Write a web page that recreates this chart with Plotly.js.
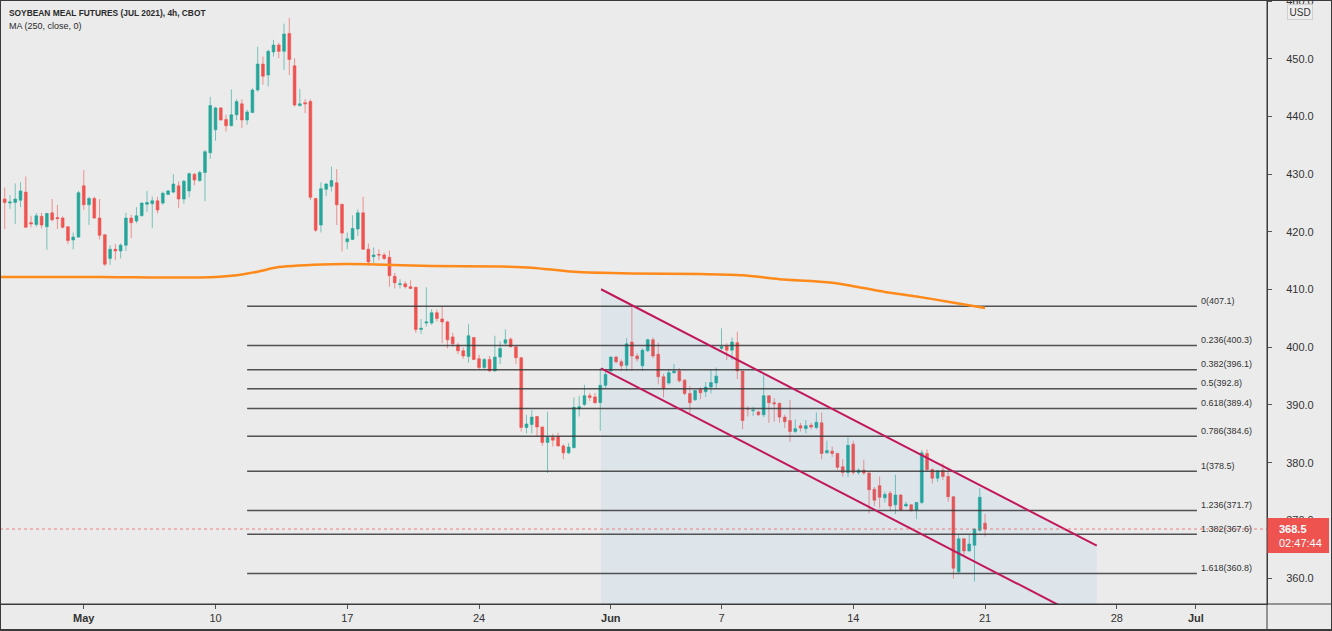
<!DOCTYPE html>
<html>
<head>
<meta charset="utf-8">
<script src="https://cdn.plot.ly/plotly-3.0.1.min.js"></script>
<style>
  html, body { margin: 0; padding: 0; background: #ebebeb; }
  #chart { width: 1332px; height: 631px; }
</style>
</head>
<body>
<div id="chart"></div>
<script>
const FONT = "Liberation Sans, Arial, sans-serif";

// 4h bars, Apr 28 -> Jun 21 2021 (index = bar number on the time scale)
const opens = [
  425.7, 425.0, 425.1, 425.5, 426.9, 421.6, 421.3, 422.7, 420.9, 423.3,
  422.5, 422.4, 420.9, 418.6, 419.1, 428.0, 424.7, 425.8, 422.4, 419.5,
  415.4, 417.0, 416.7, 417.7, 422.4, 421.9, 422.8, 424.8, 424.9, 425.4,
  425.0, 426.5, 426.9, 428.0, 425.7, 427.1, 430.0, 428.9, 430.3, 433.7,
  437.7, 441.5, 439.5, 438.4, 440.3, 442.2, 439.4, 440.7, 444.6, 449.1,
  447.2, 451.2, 452.4, 451.3, 454.4, 448.8, 441.9, 442.4, 442.6, 425.8,
  421.2, 427.4, 427.9, 428.5, 424.8, 418.3, 418.7, 420.5, 423.3, 417.0,
  415.7, 416.1, 416.0, 415.6, 412.3, 410.9, 411.0, 410.5, 410.4, 403.1,
  404.2, 404.2, 406.0, 404.9, 404.4, 401.8, 400.4, 399.4, 398.4, 401.7,
  398.0, 396.5, 397.9, 395.9, 398.3, 400.7, 401.4, 400.1, 398.2, 386.1,
  386.6, 388.0, 386.2, 383.5, 384.4, 384.5, 382.9, 381.7, 382.6, 389.3,
  390.1, 391.6, 391.4, 390.4, 393.4, 395.9, 398.3, 397.5, 396.9, 400.9,
  398.5, 396.8, 399.4, 401.3, 398.8, 394.9, 393.8, 395.6, 395.9, 394.3,
  392.0, 390.9, 392.7, 392.3, 393.1, 393.8, 399.8, 400.2, 399.5, 400.8,
  395.9, 389.4, 389.0, 388.8, 388.3, 391.6, 390.4, 390.3, 387.9, 387.3,
  385.4, 386.4, 385.9, 386.5, 386.1, 386.9, 381.7, 382.0, 381.6, 379.3,
  378.3, 383.2, 378.3, 378.7, 378.2, 375.4, 376.0, 373.9, 374.7, 372.7,
  374.4, 372.5, 372.7, 371.8, 373.1, 381.6, 378.8, 377.3, 378.7, 377.6,
  374.1, 361.1, 366.8, 364.7, 365.7, 368.3, 369.5
];
const highs = [
  427.7, 426.4, 428.4, 428.6, 429.6, 422.8, 423.3, 423.3, 423.3, 425.7,
  424.7, 422.7, 421.0, 419.9, 427.1, 430.7, 426.1, 426.1, 425.7, 419.6,
  417.7, 417.9, 418.0, 423.3, 423.0, 424.3, 425.1, 427.1, 426.1, 426.1,
  427.0, 427.3, 430.0, 428.8, 429.0, 430.3, 430.2, 430.6, 434.2, 443.4,
  441.7, 441.6, 440.3, 444.7, 443.0, 443.0, 441.2, 444.9, 452.1, 450.4,
  451.6, 453.3, 452.8, 456.1, 457.1, 450.1, 444.8, 443.0, 443.0, 425.9,
  428.6, 428.5, 431.3, 430.9, 424.8, 419.9, 422.9, 423.9, 426.1, 418.0,
  417.3, 417.0, 416.4, 416.8, 412.9, 411.8, 411.4, 411.6, 410.5, 404.9,
  410.4, 406.6, 406.5, 407.0, 404.6, 402.5, 400.8, 400.0, 404.0, 401.8,
  398.7, 398.1, 398.5, 402.0, 401.0, 403.1, 401.7, 400.1, 398.3, 388.3,
  389.1, 388.1, 386.2, 388.8, 385.0, 385.2, 383.2, 383.4, 391.3, 391.6,
  393.5, 392.1, 392.1, 396.4, 396.2, 398.4, 398.5, 397.9, 401.6, 407.0,
  399.0, 399.8, 401.5, 401.7, 400.8, 395.4, 396.1, 397.1, 396.4, 394.5,
  393.3, 392.6, 393.1, 394.0, 396.1, 396.5, 403.3, 400.7, 401.7, 402.7,
  395.9, 389.8, 389.7, 389.0, 395.2, 391.7, 391.2, 390.4, 388.3, 390.9,
  387.5, 386.9, 387.4, 386.9, 388.7, 388.7, 383.8, 382.8, 381.7, 380.6,
  384.4, 383.8, 379.0, 380.5, 378.4, 375.8, 377.6, 375.0, 375.1, 377.9,
  374.5, 373.2, 372.8, 373.2, 382.2, 382.3, 379.0, 378.7, 379.9, 379.0,
  374.1, 367.5, 366.9, 367.5, 368.6, 375.6, 371.1
];
const lows = [
  420.5, 424.0, 421.4, 424.3, 420.7, 420.8, 420.9, 420.6, 416.9, 421.8,
  420.5, 420.6, 417.9, 417.0, 419.0, 423.8, 421.2, 422.3, 418.7, 414.1,
  414.3, 415.1, 415.4, 416.7, 418.9, 421.5, 422.7, 423.5, 420.7, 423.2,
  424.7, 426.4, 426.7, 424.1, 424.9, 426.0, 428.1, 428.7, 425.3, 432.7,
  435.8, 439.3, 437.4, 438.3, 439.4, 438.0, 438.6, 440.6, 444.3, 445.5,
  445.2, 450.4, 450.1, 448.1, 447.2, 441.7, 441.7, 440.6, 425.5, 420.0,
  419.9, 426.2, 427.0, 421.2, 416.6, 417.0, 418.6, 419.3, 416.9, 414.1,
  414.6, 415.1, 415.1, 410.5, 410.2, 410.2, 410.2, 410.1, 402.5, 402.3,
  403.6, 403.9, 404.5, 400.7, 399.8, 400.1, 398.8, 398.0, 397.3, 397.8,
  396.2, 396.2, 395.8, 395.8, 397.1, 400.4, 400.0, 397.1, 385.4, 385.1,
  385.1, 384.5, 382.9, 378.2, 382.8, 382.8, 380.6, 381.5, 382.5, 388.0,
  389.8, 390.7, 390.2, 385.5, 392.9, 395.7, 397.2, 395.9, 395.9, 395.9,
  397.5, 395.9, 399.2, 398.1, 393.6, 391.3, 393.5, 395.4, 393.9, 391.7,
  388.6, 390.7, 391.0, 391.4, 392.0, 392.9, 399.5, 397.8, 397.8, 394.5,
  385.8, 388.0, 388.1, 388.1, 387.9, 386.9, 387.1, 386.9, 386.0, 383.6,
  385.1, 385.4, 385.1, 385.8, 385.8, 380.6, 381.6, 381.0, 378.8, 377.6,
  377.5, 377.9, 377.9, 377.9, 371.2, 372.5, 372.1, 373.1, 371.7, 371.1,
  371.7, 372.3, 371.5, 370.2, 372.8, 378.4, 376.4, 376.7, 377.0, 373.2,
  359.9, 360.8, 363.7, 364.6, 359.4, 368.0, 367.2
];
const closes = [
  425.1, 425.2, 425.7, 427.1, 420.8, 421.4, 422.8, 421.2, 423.2, 422.1,
  422.3, 420.8, 418.5, 419.1, 426.8, 424.7, 425.8, 422.4, 419.4, 414.4,
  417.0, 416.7, 417.7, 422.4, 421.6, 422.8, 425.0, 425.1, 425.4, 423.8,
  426.7, 427.1, 428.3, 425.7, 428.8, 430.1, 429.0, 430.3, 433.9, 441.9,
  441.5, 439.4, 438.4, 440.3, 442.6, 439.4, 440.8, 444.6, 449.1, 447.0,
  451.3, 452.4, 451.3, 454.3, 449.9, 442.0, 442.2, 442.2, 426.0, 420.3,
  427.5, 428.3, 428.9, 424.7, 419.8, 418.8, 420.6, 423.3, 417.0, 414.8,
  416.0, 416.0, 415.4, 412.4, 411.2, 411.0, 410.5, 410.2, 403.1, 403.3,
  404.4, 406.0, 405.0, 404.4, 401.3, 400.6, 399.4, 398.5, 402.0, 397.9,
  396.5, 397.9, 395.9, 398.3, 399.8, 401.3, 400.1, 398.2, 386.1, 386.7,
  387.9, 386.2, 383.5, 384.4, 383.9, 382.9, 381.7, 382.7, 389.6, 389.7,
  391.6, 391.3, 390.4, 393.4, 395.3, 398.3, 397.5, 396.8, 400.6, 398.5,
  398.0, 399.5, 401.3, 398.5, 394.9, 392.9, 395.6, 395.9, 394.2, 392.0,
  390.4, 392.5, 392.1, 393.1, 393.9, 395.0, 400.1, 399.5, 400.9, 395.9,
  387.3, 389.3, 389.1, 388.3, 391.6, 390.4, 390.2, 387.9, 387.1, 385.4,
  385.9, 386.0, 386.4, 386.2, 387.0, 381.6, 382.1, 381.6, 379.2, 378.3,
  383.0, 378.3, 378.7, 378.2, 375.3, 373.5, 374.0, 374.5, 372.5, 374.4,
  371.8, 372.8, 371.7, 373.1, 381.7, 378.8, 377.3, 378.6, 377.6, 374.1,
  361.7, 366.8, 364.7, 365.9, 368.5, 374.0, 368.5
];
const bars = opens.map((_, i) => i);

// moving average 250, read at a few bars along the line
const maBars = [-1, 18, 37, 44, 48, 52, 62, 69, 81, 94, 100, 108, 119, 132, 140, 147, 157, 167, 173, 179, 186];
const maValues = [412.2, 412.2, 412.1, 412.5, 413.1, 413.9, 414.4, 414.4, 414.1, 414.0, 413.8, 413.1, 412.8, 412.7, 412.5, 411.8, 411.2, 409.6, 408.8, 407.9, 406.8];

// fibonacci retracement / extension
const fibRatios = ["0", "0.236", "0.382", "0.5", "0.618", "0.786", "1", "1.236", "1.382", "1.618"];
const fibPrices = [407.1, 400.3, 396.1, 392.8, 389.4, 384.6, 378.5, 371.7, 367.6, 360.8];
const fibFrom = 46;
const fibTo = 226.2;

// descending channel (bar, price)
const channelBars = [113.15, 207.2];
const channelUpper = [410.06, 365.6];
const channelLower = [396.36, 351.9];

// time scale and price scale
const tickBars = [15, 40, 65, 90, 115, 136, 161, 186, 211, 226];
const tickLabels = ["<b>May</b>", "10", "17", "24", "<b>Jun</b>", "7", "14", "21", "28", "<b>Jul</b>"];
const priceTicks = [360, 370, 380, 390, 400, 410, 420, 430, 440, 450, 460];
const lastPrice = 368.5;
const countdown = "02:47:44";

const X_RANGE = [-0.89, 239.5];
const Y_RANGE = [355.5, 460.2];

const W = 1332, H = 631;
const M = { l: 0, r: 65, t: 0, b: 27 };
const PW = W - M.l - M.r;
const PH = H - M.t - M.b;

// fib lines as one trace with gaps
const fibX = [], fibY = [];
fibPrices.forEach(p => { fibX.push(fibFrom, fibTo, null); fibY.push(p, p, null); });

const traces = [
  {
    type: "scatter", mode: "lines",
    x: [channelBars[0], channelBars[1], channelBars[1], channelBars[0]],
    y: [channelUpper[0], channelUpper[1], Y_RANGE[0] - 20, Y_RANGE[0] - 20],
    fill: "toself", fillcolor: "rgba(33,150,243,0.065)",
    line: { width: 0 }, hoverinfo: "skip"
  },
  {
    type: "scatter", mode: "lines", x: fibX, y: fibY,
    line: { color: "rgba(55,55,55,0.85)", width: 1.5 }, hoverinfo: "skip"
  },
  {
    type: "scatter", mode: "lines", x: maBars, y: maValues,
    line: { color: "#ff8a1c", width: 2.5, shape: "spline", smoothing: 0.8 }, hoverinfo: "skip"
  },
  {
    type: "candlestick", x: bars, open: opens, high: highs, low: lows, close: closes,
    increasing: { line: { color: "rgba(38,166,154,0.6)", width: 1 }, fillcolor: "#26a69a" },
    decreasing: { line: { color: "rgba(239,83,80,0.6)", width: 1 }, fillcolor: "#ef5350" },
    hoverinfo: "skip"
  },
  {
    type: "scatter", mode: "lines",
    x: [channelBars[0], channelBars[1], null, channelBars[0], channelBars[1]],
    y: [channelUpper[0], channelUpper[1], null, channelLower[0], channelLower[1]],
    line: { color: "#c2185b", width: 2 }, hoverinfo: "skip"
  }
];

const annotations = [
  {
    xref: "paper", yref: "paper", x: 0, y: 1, xshift: 7, yshift: -12.5,
    xanchor: "left", yanchor: "middle", showarrow: false,
    text: "<b>SOYBEAN MEAL FUTURES (JUL 2021), 4h, CBOT</b>",
    font: { family: FONT, size: 8.4, color: "#2a2a2a" }
  },
  {
    xref: "paper", yref: "paper", x: 0, y: 1, xshift: 7, yshift: -25.5,
    xanchor: "left", yanchor: "middle", showarrow: false,
    text: "MA (250, close, 0)",
    font: { family: FONT, size: 9, color: "#2a2a2a" }
  },
  {
    xref: "paper", yref: "paper", x: 1, y: 1, xshift: 20, yshift: -4,
    xanchor: "left", yanchor: "top", showarrow: false, text: "USD",
    font: { family: FONT, size: 10, color: "#333" },
    bgcolor: "#eeeeee", bordercolor: "#cfcfcf", borderwidth: 1, borderpad: 1.5
  },
  {
    xref: "paper", yref: "y", x: 1, y: lastPrice, xshift: 10, yshift: 0,
    xanchor: "left", yanchor: "middle", showarrow: false,
    text: "<b>" + lastPrice.toFixed(1) + "</b>",
    font: { family: FONT, size: 11, color: "#ffffff" }
  },
  {
    xref: "paper", yref: "y", x: 1, y: lastPrice, xshift: 10, yshift: -14,
    xanchor: "left", yanchor: "middle", showarrow: false,
    text: countdown,
    font: { family: FONT, size: 11, color: "#ffffff" }
  }
];
fibPrices.forEach((p, i) => {
  annotations.push({
    xref: "x", yref: "y", x: fibTo, y: p, xshift: 2, yshift: 5.5,
    xanchor: "left", yanchor: "middle", showarrow: false,
    text: fibRatios[i] + "(" + p.toFixed(1) + ")",
    font: { family: FONT, size: 9, color: "#333" }
  });
});

const xFull = W / PW;
const yBottom = -(M.b - 1) / PH;
const shapes = [
  // current price line
  { type: "line", xref: "paper", yref: "y", x0: 0, x1: 1, y0: lastPrice, y1: lastPrice,
    line: { color: "rgba(239,83,80,0.7)", width: 1, dash: "dot" } },
  // price label box, sized in pixels from the right edge of the plot
  { type: "rect", xref: "paper", xsizemode: "pixel", xanchor: 1, x0: 0, x1: 62,
    yref: "y", ysizemode: "pixel", yanchor: lastPrice, y0: -24, y1: 11,
    layer: "above", fillcolor: "#ef5350", line: { width: 0 } },
  // separators and frame
  { type: "line", xref: "paper", yref: "paper", x0: 1, x1: 1, y0: yBottom, y1: 1,
    line: { color: "#3a3a3a", width: 1 } },
  { type: "line", xref: "paper", yref: "paper", x0: 0, x1: xFull, y0: 0, y1: 0,
    line: { color: "#3a3a3a", width: 1 } },
  { type: "rect", xref: "paper", yref: "paper", x0: 0, x1: xFull, y0: yBottom, y1: 1,
    line: { color: "#3a3a3a", width: 2 } }
];

const layout = {
  width: W, height: H,
  margin: M,
  paper_bgcolor: "#ebebeb",
  plot_bgcolor: "#ebebeb",
  showlegend: false,
  hovermode: false,
  boxgap: 0.25,
  font: { family: FONT, size: 11, color: "#333" },
  xaxis: {
    range: X_RANGE, rangeslider: { visible: false },
    showgrid: false, zeroline: false,
    tickmode: "array", tickvals: tickBars, ticktext: tickLabels,
    ticks: "outside", ticklen: 4, tickcolor: "#555",
    showline: true, linecolor: "#3a3a3a", linewidth: 1,
    tickfont: { family: FONT, size: 11, color: "#333" }
  },
  yaxis: {
    side: "right", range: Y_RANGE,
    showgrid: false, zeroline: false,
    tickmode: "array", tickvals: priceTicks, tickformat: ".1f",
    ticks: "outside", ticklen: 4, tickcolor: "#555",
    showline: true, linecolor: "#3a3a3a", linewidth: 1,
    ticklabelstandoff: 12, ticklabeloverflow: "allow",
    tickfont: { family: FONT, size: 11, color: "#333" }
  },
  shapes: shapes,
  annotations: annotations
};

Plotly.newPlot("chart", traces, layout, { displayModeBar: false, staticPlot: true });
</script>
</body>
</html>
